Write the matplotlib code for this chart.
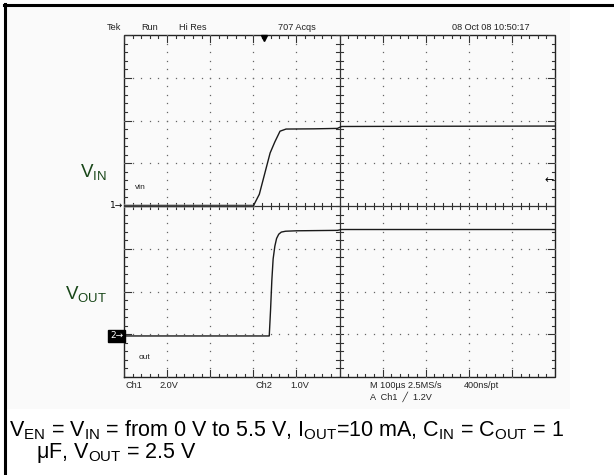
import matplotlib
matplotlib.use('Agg')
import matplotlib.pyplot as plt
import numpy as np
from matplotlib.lines import Line2D
from matplotlib.patches import Rectangle

plt.rcParams['font.family'] = ['Liberation Sans', 'DejaVu Sans']
plt.rcParams['mathtext.fontset'] = 'custom'
plt.rcParams['mathtext.rm'] = 'Liberation Sans'
plt.rcParams['mathtext.it'] = 'Liberation Sans:italic'
plt.rcParams['mathtext.bf'] = 'Liberation Sans:bold'

# ---------------- data ----------------
time_scale_us = 100.0          # M 100us / div
ch1_scale_v = 2.0              # Ch1 2.0 V / div
ch2_scale_v = 1.0              # Ch2 1.0 V / div
ch1_offset_div = 0.0
ch2_offset_div = -3.04
trigger_level_v = 1.2
trigger_time_us = -175.0

vin_time_us = [-500, -200, -186, -161, -150, -138, -124, -60, -5, 5, 200, 500]
vin_volts = [0.0, 0.0, 0.55, 2.48, 3.0, 3.50, 3.60, 3.61, 3.63, 3.72, 3.73, 3.74]

vout_time_us = [-500, -163, -160, -157, -154, -150, -146, -141, -135, -125, -100, -5, 5, 500]
vout_volts = [0.0, 0.0, 0.6, 1.3, 1.8, 2.1, 2.28, 2.38, 2.43, 2.45, 2.46, 2.47, 2.49, 2.49]

header_labels = ["Tek", "Run", "Hi Res", "707 Acqs", "08 Oct 08 10:50:17"]
footer_labels = ["Ch1", "2.0V", "Ch2", "1.0V", "M 100\u00b5s 2.5MS/s", "400ns/pt"]
footer_labels2 = "A  Ch1  \u2571  1.2V"
trace_labels = ["vin", "out"]

caption1 = (r"$\mathrm{V_{EN}}$ = $\mathrm{V_{IN}}$ = from 0 V to 5.5 V, "
            r"$\mathrm{I_{OUT}}$=10 mA, $\mathrm{C_{IN}}$ = $\mathrm{C_{OUT}}$ = 1")
caption2 = r"$\mathrm{\mu}$F, $\mathrm{V_{OUT}}$ = 2.5 V"

# ---------------- figure ----------------
W, H = 614, 475
fig = plt.figure(figsize=(W / 100, H / 100), dpi=100)
fig.patch.set_facecolor('white')

def fx(px):
    return px / W

def fy(py):
    return 1 - py / H

# faint screenshot background
fig.add_artist(Rectangle((fx(6), fy(409)), fx(570) - fx(6), fy(6) - fy(409),
                         transform=fig.transFigure, fc='#fafafa', ec='none', zorder=0))

gl, gr, gt, gb = 124, 555, 35, 377
ax = fig.add_axes([fx(gl), fy(gb), (gr - gl) / W, (gb - gt) / H])
ax.set_xlim(-5, 5)
ax.set_ylim(-4, 4)
ax.axis('off')

gc = '#333333'
# frame
ax.plot([-5, 5, 5, -5, -5], [-4, -4, 4, 4, -4], color='#222222', lw=1.0,
        clip_on=False, solid_joinstyle='miter')
# center lines
ax.plot([-5, 5], [0, 0], color=gc, lw=0.9)
ax.plot([0, 0], [-4, 4], color=gc, lw=0.9)

tk = 0.075
xs_minor = np.round(np.arange(-5, 5.001, 0.2), 3)
ys_minor = np.round(np.arange(-4, 4.001, 0.2), 3)
for x in xs_minor:
    major = abs(x - round(x)) < 1e-6
    L = 0.16 if major else tk
    ax.plot([x, x], [-tk, tk], color=gc, lw=0.8)
    ax.plot([x, x], [4, 4 - L], color=gc, lw=0.8)
    ax.plot([x, x], [-4, -4 + L], color=gc, lw=0.8)
for y in ys_minor:
    major = abs(y - round(y)) < 1e-6
    L = 0.16 if major else tk
    ax.plot([-tk, tk], [y, y], color=gc, lw=0.8)
    ax.plot([-5, -5 + L], [y, y], color=gc, lw=0.8)
    ax.plot([5, 5 - L], [y, y], color=gc, lw=0.8)

# dotted graticule
dx, dy = [], []
for xm in range(-4, 5):
    if xm == 0:
        continue
    for y in ys_minor:
        dx.append(xm)
        dy.append(y)
for ym in range(-3, 4):
    if ym == 0:
        continue
    for x in xs_minor:
        dx.append(x)
        dy.append(ym)
ax.plot(dx, dy, linestyle='none', marker='s', markersize=0.9, color='#666666',
        markeredgewidth=0)

# traces
vin_t = np.array(vin_time_us) / time_scale_us
vin_y = np.array(vin_volts) / ch1_scale_v + ch1_offset_div
vout_t = np.array(vout_time_us) / time_scale_us
vout_y = np.array(vout_volts) / ch2_scale_v + ch2_offset_div
ax.plot(vin_t[:2], vin_y[:2], color='#999999', lw=2.6, alpha=0.7)
ax.plot(vin_t, vin_y, color='#1a1a1a', lw=1.0)
ax.plot(vout_t, vout_y, color='#1a1a1a', lw=1.0)

# trigger markers
ax.plot([trigger_time_us / time_scale_us], [4 - 0.07], marker='v', markersize=5,
        color='black', clip_on=False)
ax.text(4.97, trigger_level_v / ch1_scale_v + ch1_offset_div, "\u2190",
        fontsize=8, ha='right', va='center', family=['DejaVu Sans'])

# channel ground markers
ax.text(-5.02, ch1_offset_div, "1\u2192", fontsize=6.5, ha='right', va='center',
        family=['DejaVu Sans'], clip_on=False)
ax.text(-5.02, ch2_offset_div, "2\u2192", fontsize=6.5, ha='right', va='center',
        color='white', family=['DejaVu Sans'], clip_on=False,
        bbox=dict(boxstyle='square,pad=0.2', fc='black', ec='black'))

# trace names
ax.text(-4.74, 0.44, trace_labels[0], fontsize=6, ha='left', va='center', color='#222')
ax.text(-4.65, -3.55, trace_labels[1], fontsize=6, ha='left', va='center', color='#222')

# header / footer text
sc = '#222222'
hx = [107, 141, 179, 278, 452]
for x, s in zip(hx, header_labels):
    fig.text(fx(x), fy(27), s, fontsize=6.6, ha='left', va='center', color=sc)
fxp = [125, 159, 256, 290, 370, 464]
for x, s in zip(fxp, footer_labels):
    fig.text(fx(x), fy(386), s, fontsize=6.6, ha='left', va='center', color=sc)
fig.text(fx(370), fy(397), footer_labels2, fontsize=6.6, ha='left', va='center',
         color=sc, family=['Liberation Sans', 'DejaVu Sans'])

# big labels
green = '#184618'
fig.text(fx(107), fy(172), r"$\mathrm{V_{IN}}$", fontsize=13.5, ha='right',
         va='center', color=green)
fig.text(fx(107), fy(294), r"$\mathrm{V_{OUT}}$", fontsize=13.5, ha='right',
         va='center', color=green)

# caption
fig.text(fx(9), fy(436), caption1, fontsize=15.5, ha='left', va='baseline', color='black')
fig.text(fx(36), fy(458), caption2, fontsize=15.5, ha='left', va='baseline', color='black')

# outer frame (left and top)
fig.add_artist(Line2D([fx(5), fx(5)], [fy(4), fy(475)], color='black', lw=2.2))
fig.add_artist(Line2D([fx(4), fx(614)], [fy(5), fy(5)], color='black', lw=2.2))

fig.savefig('out.png', dpi=100, facecolor='white')
